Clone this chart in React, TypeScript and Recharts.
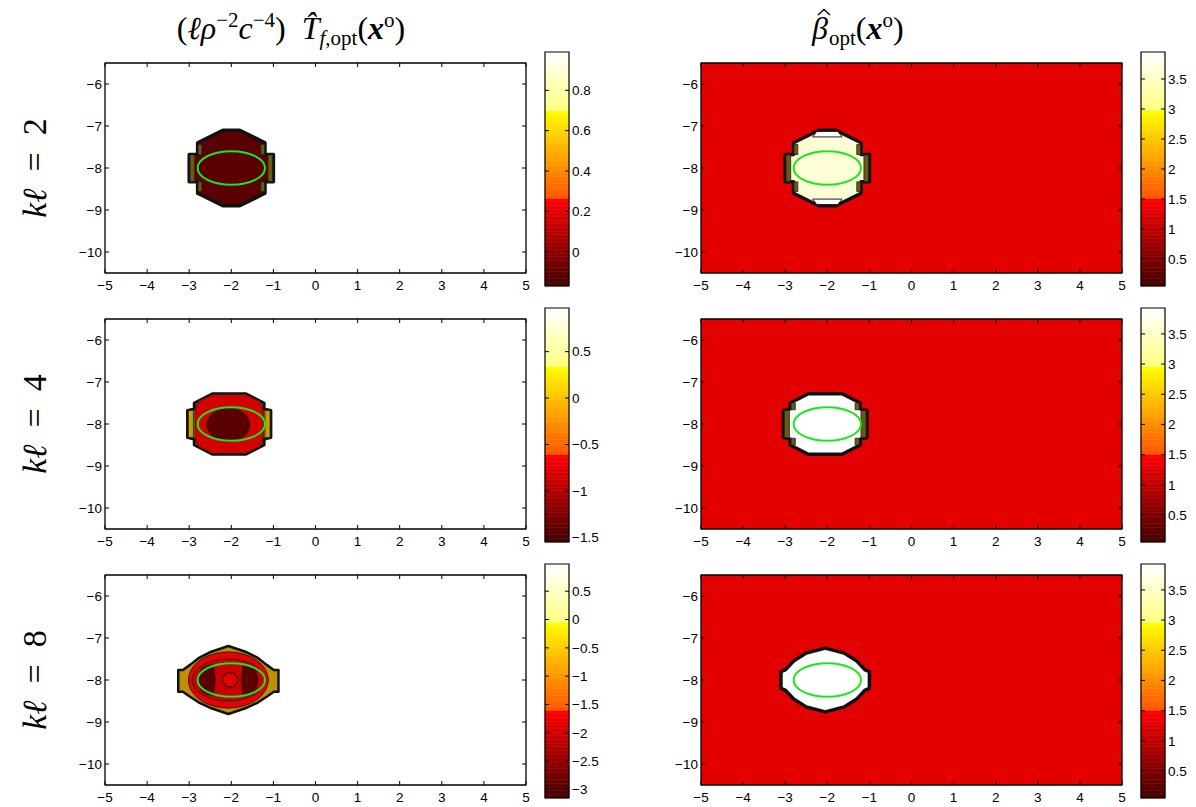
import React from 'react';
import { ScatterChart, Scatter, XAxis, YAxis, ReferenceArea } from 'recharts';

// ---------- axes ----------
const xTicks = [-5, -4, -3, -2, -1, 0, 1, 2, 3, 4, 5];
const yTicks = [-10, -9, -8, -7, -6];
const xDomain: [number, number] = [-5, 5];
const yDomain: [number, number] = [-10.5, -5.5];
const rowLabels = ['2', '4', '8'];

// ---------- colour bars ----------
const cbRangeLeft = [[-0.17, 0.99], [-1.55, 0.97], [-3.15, 0.98]];
const cbTicksLeft = [
  [0, 0.2, 0.4, 0.6, 0.8],
  [-1.5, -1, -0.5, 0, 0.5],
  [-3, -2.5, -2, -1.5, -1, -0.5, 0, 0.5],
];
const cbRangeRight = [[0.05, 3.95], [0.05, 3.93], [0.05, 3.93]];
const cbTicksRight = [
  [0.5, 1, 1.5, 2, 2.5, 3, 3.5],
  [0.5, 1, 1.5, 2, 2.5, 3, 3.5],
  [0.5, 1, 1.5, 2, 2.5, 3, 3.5],
];

// ---------- contour shapes (data coordinates) ----------
const trueObstacle = [-2, -8, 0.8, 0.4]; // centre x, centre y, semi-axis x, semi-axis y

const octK2 = [[-2.2, -7.1], [-1.8, -7.1], [-1.2, -7.4], [-1.2, -7.68], [-1.0, -7.68], [-1.0, -8.33], [-1.2, -8.33], [-1.2, -8.6], [-1.8, -8.9], [-2.2, -8.9], [-2.8, -8.6], [-2.8, -8.33], [-3.0, -8.33], [-3.0, -7.68], [-2.8, -7.68], [-2.8, -7.4]];
const stripK2a = [[-1.3, -7.44], [-1.21, -7.44], [-1.21, -7.68], [-1.3, -7.68]];
const stripK2b = [[-1.13, -7.69], [-1.02, -7.69], [-1.02, -8.32], [-1.13, -8.32]];
const stripK2c = [[-1.3, -8.33], [-1.21, -8.33], [-1.21, -8.56], [-1.3, -8.56]];
const stripK2d = [[-2.7, -7.44], [-2.79, -7.44], [-2.79, -7.68], [-2.7, -7.68]];
const stripK2e = [[-2.87, -7.69], [-2.98, -7.69], [-2.98, -8.32], [-2.87, -8.32]];
const stripK2f = [[-2.7, -8.33], [-2.79, -8.33], [-2.79, -8.56], [-2.7, -8.56]];
const capK2top = [[-2.25, -7.13], [-1.75, -7.13], [-1.65, -7.26], [-2.35, -7.26]];
const capK2bot = [[-2.25, -8.87], [-1.75, -8.87], [-1.65, -8.74], [-2.35, -8.74]];

const octK4 = [[-2.45, -7.28], [-1.65, -7.28], [-1.22, -7.5], [-1.22, -7.64], [-1.06, -7.68], [-1.06, -8.32], [-1.22, -8.36], [-1.22, -8.5], [-1.65, -8.72], [-2.45, -8.72], [-2.88, -8.5], [-2.88, -8.36], [-3.04, -8.32], [-3.04, -7.68], [-2.88, -7.64], [-2.88, -7.5]];
const redK4 = [[-2.45, -7.3], [-1.65, -7.3], [-1.32, -7.46], [-1.24, -7.66], [-1.24, -8.34], [-1.32, -8.54], [-1.65, -8.7], [-2.45, -8.7], [-2.78, -8.54], [-2.86, -8.34], [-2.86, -7.66], [-2.78, -7.46]];
const darkK4 = [-2.07, -8.02, 0.51, 0.4];
const stripK4a = [[-1.2, -7.68], [-1.08, -7.68], [-1.08, -8.32], [-1.2, -8.32]];
const stripK4b = [[-2.9, -7.68], [-3.02, -7.68], [-3.02, -8.32], [-2.9, -8.32]];
const stripK4c = [[-1.34, -7.5], [-1.24, -7.5], [-1.24, -7.66], [-1.34, -7.66]];
const stripK4d = [[-1.34, -8.34], [-1.24, -8.34], [-1.24, -8.5], [-1.34, -8.5]];
const stripK4e = [[-2.76, -7.5], [-2.86, -7.5], [-2.86, -7.66], [-2.76, -7.66]];
const stripK4f = [[-2.76, -8.34], [-2.86, -8.34], [-2.86, -8.5], [-2.76, -8.5]];

const outerK8 = [[-2.07, -7.19], [-1.63, -7.34], [-1.36, -7.48], [-1.16, -7.64], [-0.99, -7.76], [-0.88, -7.76], [-0.88, -8.28], [-0.99, -8.28], [-1.16, -8.4], [-1.36, -8.53], [-1.63, -8.66], [-2.07, -8.81], [-2.51, -8.66], [-2.78, -8.53], [-2.98, -8.4], [-3.15, -8.28], [-3.26, -8.28], [-3.26, -7.76], [-3.15, -7.76], [-2.98, -7.64], [-2.78, -7.48], [-2.51, -7.34]];
const redOuterK8 = [-2.07, -8.0, 0.95, 0.67];
const redInnerK8 = [-2.07, -8.0, 0.86, 0.5];
const patchK8left = [[-2.42, -7.63], [-2.6, -7.66], [-2.72, -7.75], [-2.78, -8.0], [-2.72, -8.25], [-2.6, -8.34], [-2.42, -8.37], [-2.38, -8.0]];
const patchK8right = [[-1.72, -7.63], [-1.55, -7.66], [-1.42, -7.75], [-1.36, -8.0], [-1.42, -8.25], [-1.55, -8.34], [-1.72, -8.37], [-1.76, -8.0]];
const hexK8 = [[-2.12, -7.83], [-1.94, -7.83], [-1.83, -8.0], [-1.94, -8.16], [-2.12, -8.16], [-2.23, -8.0]];
const betaK8 = [[-2.05, -7.24], [-1.6, -7.36], [-1.3, -7.55], [-1.1, -7.76], [-1.0, -7.8], [-1.0, -8.2], [-1.1, -8.24], [-1.3, -8.45], [-1.6, -8.64], [-2.05, -8.76], [-2.5, -8.64], [-2.8, -8.45], [-3.0, -8.24], [-3.1, -8.2], [-3.1, -7.8], [-3.0, -7.76], [-2.8, -7.55], [-2.5, -7.36]];

// ---------- layout ----------
const PW = 421;
const PH = 210;
const YW = 45;
const MT = 5;
const MR = 6;
const XH = 25;
const colX = [105, 701];
const rowY = [63, 319, 575];
const cbX = [545, 1141];
const CBW = 24;
const CBH = 234;

const FONT = '"Liberation Sans", Arial, Helvetica, sans-serif';
const SERIF = '"Liberation Serif", "DejaVu Serif", serif';

type Layer = { pts: number[][]; fill: string; stroke?: string; sw?: number; ellipse?: boolean };

const fmt = (v: number) => (v < 0 ? '\u2212' : '') + String(Math.abs(v));

const ell = (e: number[]) => [[e[0] - e[2], e[1]], [e[0] + e[2], e[1]], [e[0], e[1] + e[3]]];
const none = () => <g />;

function makeLine(l: Layer) {
  return (props: any) => {
    const p = (props.points || []) as { x: number; y: number }[];
    if (l.ellipse) {
      const [a, b, c] = p;
      if (!a || !b || !c) return <g />;
      return (
        <ellipse cx={(a.x + b.x) / 2} cy={a.y} rx={Math.abs(b.x - a.x) / 2} ry={Math.abs(a.y - c.y)}
          fill={l.fill} stroke={l.stroke || 'none'} strokeWidth={l.sw || 0} />
      );
    }
    return (
      <polygon points={p.map((q) => `${q.x},${q.y}`).join(' ')} fill={l.fill}
        stroke={l.stroke || 'none'} strokeWidth={l.sw || 0} strokeLinejoin="round" />
    );
  };
}

const box = [[-5, -10.5], [5, -10.5], [5, -5.5], [-5, -5.5]];

function XTick(props: any) {
  const { x, y, payload } = props;
  return (
    <g>
      <line x1={x} x2={x} y1={y} y2={y - 4} stroke="#000" strokeWidth={1} />
      <line x1={x} x2={x} y1={y - PH} y2={y - PH + 4} stroke="#000" strokeWidth={1} />
      <text x={x} y={y + 16.5} textAnchor="middle" fontFamily={FONT} fontSize={13.5} fill="#000">{fmt(payload.value)}</text>
    </g>
  );
}

function YTick(props: any) {
  const { x, y, payload } = props;
  return (
    <g>
      <line x1={x} x2={x + 4} y1={y} y2={y} stroke="#000" strokeWidth={1} />
      <line x1={x + PW - 4} x2={x + PW} y1={y} y2={y} stroke="#000" strokeWidth={1} />
      <text x={x - 3} y={y + 4.8} textAnchor="end" fontFamily={FONT} fontSize={13.5} fill="#000">{fmt(payload.value)}</text>
    </g>
  );
}

function Panel({ left, top, bg, layers }: { left: number; top: number; bg: string; layers: Layer[] }) {
  const all: Layer[] = [{ pts: box, fill: bg }, ...layers, { pts: ell(trueObstacle), fill: 'none', stroke: '#1ee61e', sw: 2, ellipse: true }, { pts: box, fill: 'none', stroke: '#000', sw: 1.3 }];
  return (
    <div style={{ position: 'absolute', left: left - YW, top: top - MT }}>
      <ScatterChart width={YW + PW + MR} height={MT + PH + XH} margin={{ top: MT, right: MR, left: 0, bottom: 0 }}>
        <XAxis type="number" dataKey="x" domain={xDomain} ticks={xTicks} interval={0} height={XH}
          axisLine={false} tickLine={false} tickSize={0} tickMargin={0} tick={(p: any) => <XTick {...p} />} />
        <YAxis type="number" dataKey="y" domain={yDomain} ticks={yTicks} interval={0} width={YW}
          axisLine={false} tickLine={false} tickSize={0} tickMargin={0} tick={(p: any) => <YTick {...p} />} />
        {all.map((l, i) => (
          <Scatter key={i} data={l.pts.map(([x, y]) => ({ x, y }))} shape={none} line={makeLine(l)}
            lineType="joint" isAnimationActive={false} legendType="none" />
        ))}
      </ScatterChart>
    </div>
  );
}

function hotColor(f: number) {
  let r = 1, g = 0, b = 0;
  if (f < 0.375) { r = 0.27 + 0.73 * (f / 0.375); }
  else if (f < 0.75) { g = 0.33 + 0.67 * ((f - 0.375) / 0.375); }
  else { g = 1; b = 0.5 + 0.5 * ((f - 0.75) / 0.25); }
  const h = (v: number) => Math.round(Math.min(1, Math.max(0, v)) * 255).toString(16).padStart(2, '0');
  return `#${h(r)}${h(g)}${h(b)}`;
}

const NB = 64;

function CTick(props: any) {
  const { x, y, payload } = props;
  return (
    <g>
      <line x1={x - 4} x2={x} y1={y} y2={y} stroke="#000" strokeWidth={1} />
      <line x1={x - CBW} x2={x - CBW + 4} y1={y} y2={y} stroke="#000" strokeWidth={1} />
      <text x={x + 3} y={y + 4.8} textAnchor="start" fontFamily={FONT} fontSize={13.5} fill="#000">{fmt(payload.value)}</text>
    </g>
  );
}

function ColorBar({ left, top, range, ticks }: { left: number; top: number; range: number[]; ticks: number[] }) {
  const [lo, hi] = range;
  const bands = Array.from({ length: NB }, (_, i) => {
    const y1 = lo + ((hi - lo) * i) / NB;
    const y2 = lo + ((hi - lo) * (i + 1)) / NB;
    return { y1, y2, c: hotColor((i + 0.5) / NB) };
  });
  return (
    <div style={{ position: 'absolute', left: left - 1, top: top - 2 }}>
      <ScatterChart width={1 + CBW + 40} height={CBH + 4} margin={{ top: 2, right: 0, left: 1, bottom: 2 }}>
        <XAxis type="number" dataKey="x" domain={[0, 1]} hide />
        <YAxis type="number" dataKey="y" domain={[lo, hi]} ticks={ticks} interval={0} orientation="right" width={40}
          axisLine={false} tickLine={false} tickSize={0} tickMargin={0} tick={(p: any) => <CTick {...p} />} />
        <Scatter data={[{ x: 0.5, y: lo }]} shape={none} isAnimationActive={false} legendType="none" />
        {bands.map((b, i) => (
          <ReferenceArea key={i} x1={0} x2={1} y1={b.y1} y2={b.y2} fill={b.c} fillOpacity={1} stroke={b.c} strokeWidth={0.6} />
        ))}
        <ReferenceArea x1={0} x2={1} y1={lo} y2={hi} fill="none" fillOpacity={0} stroke="#000" strokeWidth={1.2} />
      </ScatterChart>
    </div>
  );
}

const DARK = '#5a0000';
const OLIVE = '#6b5a12';
const BGRED = '#e20000';

const panelsLeft: Layer[][] = [
  [
    { pts: octK2, fill: DARK, stroke: '#111', sw: 3.5 },
    { pts: stripK2a, fill: OLIVE, stroke: '#222', sw: 0.8 },
    { pts: stripK2b, fill: OLIVE, stroke: '#222', sw: 0.8 },
    { pts: stripK2c, fill: OLIVE, stroke: '#222', sw: 0.8 },
    { pts: stripK2d, fill: OLIVE, stroke: '#222', sw: 0.8 },
    { pts: stripK2e, fill: OLIVE, stroke: '#222', sw: 0.8 },
    { pts: stripK2f, fill: OLIVE, stroke: '#222', sw: 0.8 },
  ],
  [
    { pts: octK4, fill: '#8c7400', stroke: '#111', sw: 3 },
    { pts: stripK4a, fill: '#c8a000', stroke: '#222', sw: 0.8 },
    { pts: stripK4b, fill: '#c8a000', stroke: '#222', sw: 0.8 },
    { pts: redK4, fill: '#d40000', stroke: '#222', sw: 0.9 },
    { pts: ell(darkK4), fill: DARK, stroke: '#222', sw: 1, ellipse: true },
  ],
  [
    { pts: outerK8, fill: '#c09000', stroke: '#111', sw: 2.5 },
    { pts: ell(redOuterK8), fill: '#e60000', stroke: '#222', sw: 1, ellipse: true },
    { pts: ell(redInnerK8), fill: '#c80000', stroke: '#222', sw: 1, ellipse: true },
    { pts: patchK8left, fill: DARK, stroke: '#222', sw: 0.8 },
    { pts: patchK8right, fill: DARK, stroke: '#222', sw: 0.8 },
    { pts: hexK8, fill: '#e80000', stroke: '#111', sw: 1 },
  ],
];

const panelsRight: Layer[][] = [
  [
    { pts: octK2, fill: '#fdfdd6', stroke: '#111', sw: 3.5 },
    { pts: capK2top, fill: '#ffffff', stroke: '#222', sw: 1 },
    { pts: capK2bot, fill: '#ffffff', stroke: '#222', sw: 1 },
    { pts: stripK2a, fill: OLIVE, stroke: '#222', sw: 0.8 },
    { pts: stripK2b, fill: OLIVE, stroke: '#222', sw: 0.8 },
    { pts: stripK2c, fill: OLIVE, stroke: '#222', sw: 0.8 },
    { pts: stripK2d, fill: OLIVE, stroke: '#222', sw: 0.8 },
    { pts: stripK2e, fill: OLIVE, stroke: '#222', sw: 0.8 },
    { pts: stripK2f, fill: OLIVE, stroke: '#222', sw: 0.8 },
  ],
  [
    { pts: octK4, fill: '#ffffff', stroke: '#111', sw: 3.5 },
    { pts: stripK4a, fill: OLIVE, stroke: '#222', sw: 0.8 },
    { pts: stripK4b, fill: OLIVE, stroke: '#222', sw: 0.8 },
    { pts: stripK4c, fill: OLIVE, stroke: '#222', sw: 0.8 },
    { pts: stripK4d, fill: OLIVE, stroke: '#222', sw: 0.8 },
    { pts: stripK4e, fill: OLIVE, stroke: '#222', sw: 0.8 },
    { pts: stripK4f, fill: OLIVE, stroke: '#222', sw: 0.8 },
  ],
  [
    { pts: betaK8, fill: '#ffffff', stroke: '#111', sw: 3.5 },
  ],
];

export default function App() {
  return (
    <div style={{ position: 'absolute', left: 0, top: 0, width: 1196, height: 807, background: '#fff' }}>
      {rowY.map((ry, r) => (
        <React.Fragment key={r}>
          <Panel left={colX[0]} top={ry} bg="#ffffff" layers={panelsLeft[r]} />
          <Panel left={colX[1]} top={ry} bg={BGRED} layers={panelsRight[r]} />
          <ColorBar left={cbX[0]} top={ry - 11} range={cbRangeLeft[r]} ticks={cbTicksLeft[r]} />
          <ColorBar left={cbX[1]} top={ry - 11} range={cbRangeRight[r]} ticks={cbTicksRight[r]} />
        </React.Fragment>
      ))}
      <svg width={1196} height={807} style={{ position: 'absolute', left: 0, top: 0, pointerEvents: 'none' }}>
        <text x={291} y={39} textAnchor="middle" fontFamily={SERIF} fontSize={32} fill="#000">
          <tspan>(</tspan>
          <tspan fontStyle="italic">{'\u2113\u03C1'}</tspan>
          <tspan fontSize={21} dy={-12}>{'\u22122'}</tspan>
          <tspan dy={12} fontStyle="italic">c</tspan>
          <tspan fontSize={21} dy={-12}>{'\u22124'}</tspan>
          <tspan dy={12}>{')\u2002'}</tspan>
          <tspan fontStyle="italic">{'T\u0302'}</tspan>
          <tspan fontSize={21} dy={6} fontStyle="italic">f</tspan>
          <tspan fontSize={21}>,opt</tspan>
          <tspan dy={-6}>(</tspan>
          <tspan fontStyle="italic" fontWeight="bold">x</tspan>
          <tspan fontSize={21} dy={-12}>o</tspan>
          <tspan dy={12}>)</tspan>
        </text>
        <polyline points="818,15 824,9.5 830,15" fill="none" stroke="#000" strokeWidth={1.3} />
        <text x={812} y={39} textAnchor="start" fontFamily={SERIF} fontSize={32} fill="#000">
          <tspan fontStyle="italic">{'\u03B2'}</tspan>
          <tspan fontSize={21} dx={1} dy={6}>opt</tspan>
          <tspan dy={-6}>(</tspan>
          <tspan fontStyle="italic" fontWeight="bold">x</tspan>
          <tspan fontSize={21} dy={-12}>o</tspan>
          <tspan dy={12}>)</tspan>
        </text>
        {rowY.map((ry, r) => {
          const cy = ry + PH / 2;
          return (
            <text key={r} x={46} y={cy} transform={`rotate(-90 46 ${cy})`} textAnchor="middle" fontFamily={SERIF} fontSize={34} fill="#000">
              <tspan fontStyle="italic">{'k\u2113'}</tspan>
              <tspan>{'\u2002=\u2002' + rowLabels[r]}</tspan>
            </text>
          );
        })}
      </svg>
    </div>
  );
}
